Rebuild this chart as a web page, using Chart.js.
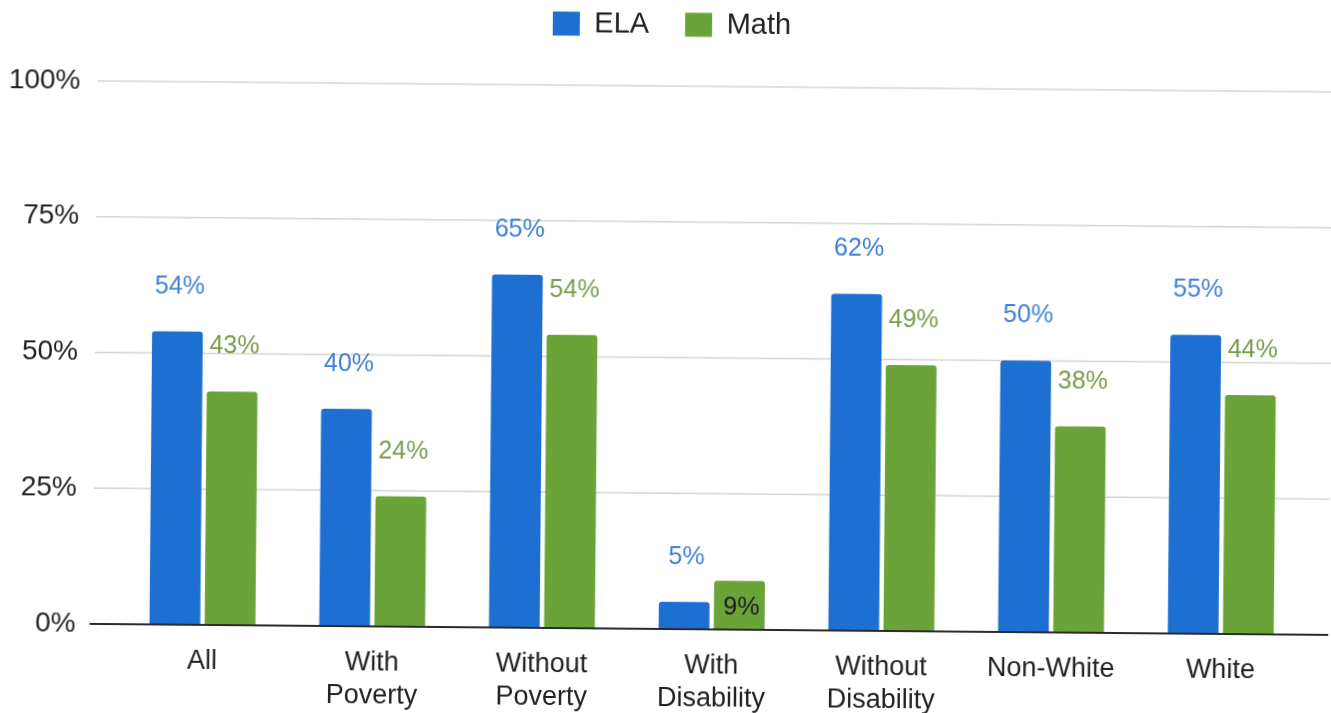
<!DOCTYPE html>
<html>
<head>
<meta charset="utf-8">
<script src="https://cdn.jsdelivr.net/npm/chart.js@4.4.0/dist/chart.umd.min.js"></script>
<style>
  html, body { margin: 0; padding: 0; background: #fff; overflow: hidden; }
  /* the source is a slightly tilted scan */
  #chart { display: block; transform: rotate(0.51deg); }
</style>
</head>
<body>
<canvas id="chart" width="1331" height="713"></canvas>
<script>
const categories = ["All", ["With", "Poverty"], ["Without", "Poverty"], ["With", "Disability"], ["Without", "Disability"], "Non-White", "White"];
const elaValues = [54, 40, 65, 5, 62, 50, 55];
const mathValues = [43, 24, 54, 9, 49, 38, 44];
const yTicks = [0, 25, 50, 75, 100];

const FONT = "'Liberation Sans', Arial, sans-serif";

// gridlines run a bit past the plot area, like the original
const gridPlugin = {
  id: "gridLines",
  beforeDatasetsDraw(chart) {
    const ctx = chart.ctx;
    const y = chart.scales.y;
    ctx.save();
    yTicks.forEach((t) => {
      if (t === 0) return;
      const py = y.getPixelForValue(t);
      ctx.beginPath();
      ctx.strokeStyle = "#d4d4d4";
      ctx.lineWidth = 1.5;
      ctx.moveTo(chart.chartArea.left - 25, py);
      ctx.lineTo(chart.width, py);
      ctx.stroke();
    });
    ctx.restore();
  },
  afterDatasetsDraw(chart) {
    const ctx = chart.ctx;
    const py = chart.scales.y.getPixelForValue(0);
    ctx.save();
    ctx.beginPath();
    ctx.strokeStyle = "#2b2b2b";
    ctx.lineWidth = 2;
    ctx.moveTo(chart.chartArea.left - 28, py);
    ctx.lineTo(chart.width, py);
    ctx.stroke();
    ctx.restore();
  },
};

const labelPlugin = {
  id: "valueLabels",
  afterDatasetsDraw(chart) {
    const ctx = chart.ctx;
    ctx.save();
    ctx.font = "25px " + FONT;
    ctx.textAlign = "center";
    ctx.textBaseline = "middle";
    chart.data.datasets.forEach((ds, di) => {
      chart.getDatasetMeta(di).data.forEach((bar, i) => {
        const v = ds.data[i];
        const inside = di === 1 && v < 10;
        ctx.fillStyle = inside ? "#1a1a1a" : ds.labelColor;
        ctx.fillText(v + "%", bar.x + 2, inside ? bar.y + 27 : bar.y - 45);
      });
    });
    ctx.restore();
  },
};

// legend sits high with wide gaps between items
const legendPlugin = {
  id: "legendSpace",
  beforeLayout(chart) {
    if (chart.legend && !chart.legend._patched) {
      const fit = chart.legend.fit;
      chart.legend.fit = function () {
        fit.call(this);
        this.height += 11;
      };
      chart.legend._patched = true;
    }
  },
  afterLayout(chart) {
    if (chart.legend) {
      chart.legend.left += 30;
      chart.legend.top -= 26;
    }
  },
};

new Chart(document.getElementById("chart"), {
  type: "bar",
  data: {
    labels: categories,
    datasets: [
      {
        label: "ELA",
        data: elaValues,
        backgroundColor: "#1e6fd2",
        labelColor: "#3e7fd7",
        borderWidth: 0,
        borderRadius: { topLeft: 3, topRight: 3 },
        borderSkipped: "bottom",
        barPercentage: 0.92,
        categoryPercentage: 0.65,
      },
      {
        label: "Math",
        data: mathValues,
        backgroundColor: "#6aa338",
        labelColor: "#7b9b4b",
        borderWidth: 0,
        borderRadius: { topLeft: 3, topRight: 3 },
        borderSkipped: "bottom",
        barPercentage: 0.92,
        categoryPercentage: 0.65,
      },
    ],
  },
  options: {
    responsive: false,
    animation: false,
    layout: { padding: { left: 0, right: 23, top: 0, bottom: 0 } },
    plugins: {
      legend: {
        position: "top",
        labels: {
          boxWidth: 27,
          boxHeight: 24,
          padding: 36,
          color: "#222",
          font: { family: FONT, size: 29 },
        },
      },
      tooltip: { enabled: false },
    },
    scales: {
      x: {
        grid: { display: false, drawTicks: false },
        border: { display: false },
        afterFit: (scale) => {
          scale.height = 84;
        },
        ticks: {
          padding: 20,
          color: "#222",
          maxRotation: 0,
          autoSkip: false,
          font: { family: FONT, size: 27, lineHeight: 1.22 },
        },
      },
      y: {
        min: 0,
        max: 100,
        grid: { display: false, drawTicks: false },
        border: { display: false },
        afterBuildTicks: (scale) => {
          scale.ticks = yTicks.map((v) => ({ value: v }));
        },
        afterFit: (scale) => {
          scale.width = 120;
        },
        ticks: {
          padding: 42,
          color: "#222",
          font: { family: FONT, size: 28 },
          callback: (v) => v + "%",
        },
      },
    },
  },
  plugins: [gridPlugin, labelPlugin, legendPlugin],
});
</script>
</body>
</html>
